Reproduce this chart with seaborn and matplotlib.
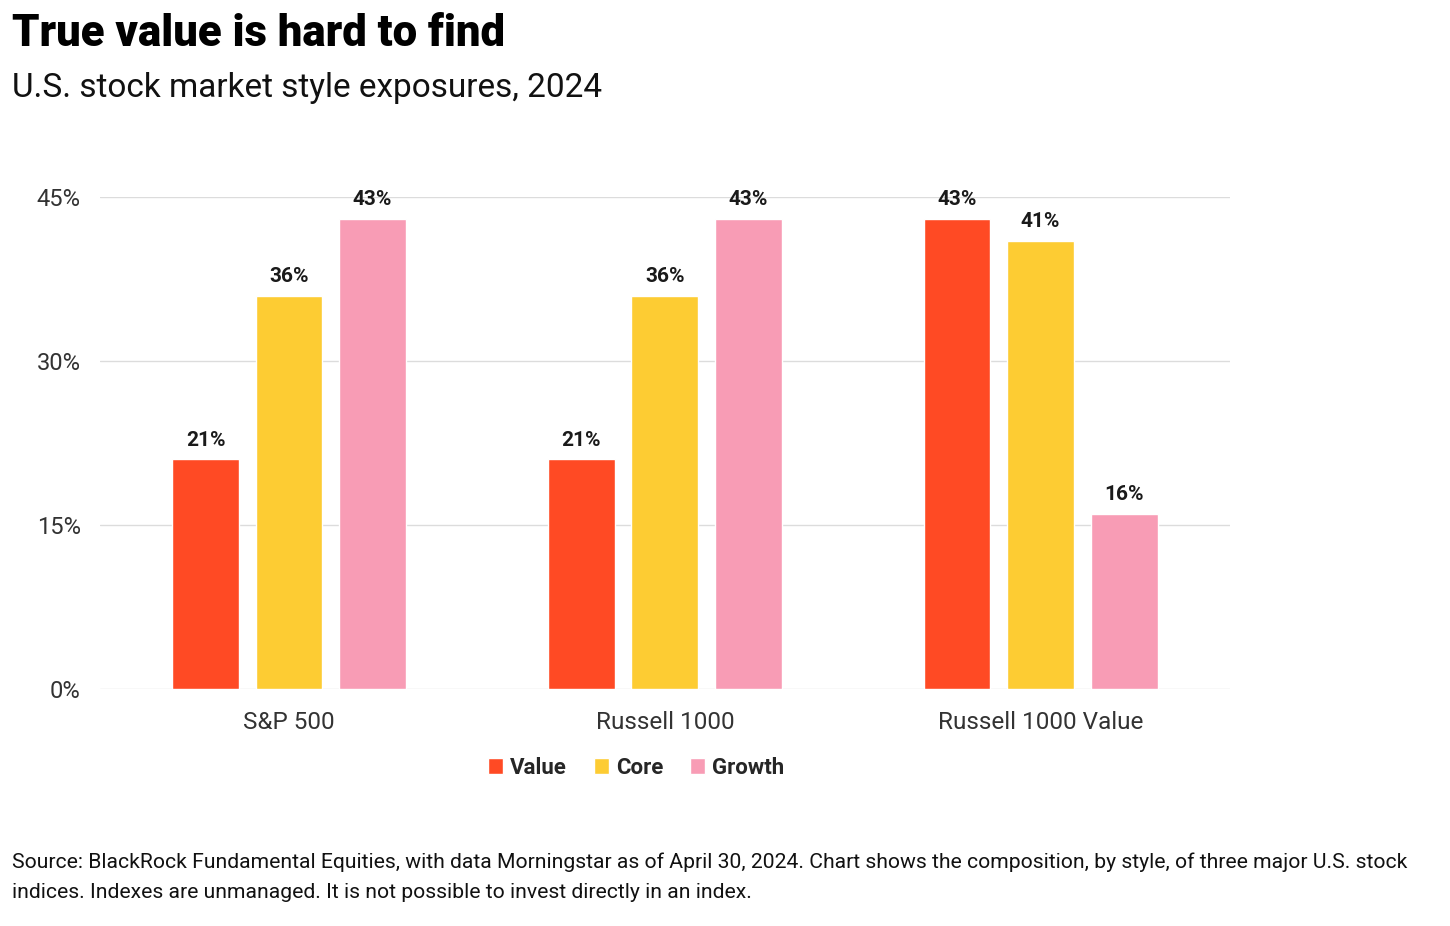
import seaborn as sns
import matplotlib.pyplot as plt
import pandas as pd

# values (percent of index)
indices = ["S&P 500", "Russell 1000", "Russell 1000 Value"]
styles = ["Value", "Core", "Growth"]
value_share = [21, 21, 43]
core_share = [36, 36, 41]
growth_share = [43, 43, 16]
yticks = [0, 15, 30, 45]

colors = {"Value": "#FF4A24", "Core": "#FDCC33", "Growth": "#F89CB5"}

df = pd.DataFrame({
    "index": indices * 3,
    "style": ["Value"] * 3 + ["Core"] * 3 + ["Growth"] * 3,
    "share": value_share + core_share + growth_share,
})

sns.set_theme(style="white")
plt.rcParams['font.family'] = ['Roboto', 'DejaVu Sans']

fig = plt.figure(figsize=(14.5, 9.26), dpi=100)
ax = fig.add_axes([0.069, 0.256, 0.779, 0.531])

sns.barplot(data=df, x="index", y="share", hue="style", hue_order=styles,
            palette=colors, width=0.667, gap=0.2, saturation=1, ax=ax)

ax.set_xlim(-0.503, 2.503)
ax.set_ylim(0, 45)
ax.set_yticks(yticks)
ax.set_yticklabels([f"{t}%" for t in yticks])
ax.set_xlabel("")
ax.set_ylabel("")
ax.yaxis.grid(True, color="#dcdcdc", linewidth=1)
ax.set_axisbelow(True)
for s in ax.spines.values():
    s.set_visible(False)
ax.tick_params(axis="y", length=0, pad=14, labelsize=17, labelcolor="#333333")
ax.tick_params(axis="x", length=0, pad=16, labelsize=17.5, labelcolor="#333333")

for cont in ax.containers:
    ax.bar_label(cont, labels=[f"{h.get_height():.0f}%" for h in cont],
                 padding=7, fontsize=15, fontweight="bold", color="#1a1a1a")

sns.move_legend(ax, loc="center", bbox_to_anchor=(0.4386, 0.171),
                bbox_transform=fig.transFigure, ncol=3, frameon=False,
                title=None, handlelength=0.7, handleheight=0.7,
                handletextpad=0.3, columnspacing=1.2,
                prop={"size": 16, "weight": "bold"})

fig.text(0.0083, 0.963, "True value is hard to find", fontsize=31.5,
         fontweight="black", va="center", ha="left", color="black")
fig.text(0.0083, 0.905, "U.S. stock market style exposures, 2024", fontsize=24,
         va="center", ha="left", color="#111111")
fig.text(0.0083, 0.053,
         "Source: BlackRock Fundamental Equities, with data Morningstar as of April 30, 2024. "
         "Chart shows the composition, by style, of three major U.S. stock\n"
         "indices. Indexes are unmanaged. It is not possible to invest directly in an index.",
         fontsize=15.2, va="center", ha="left", color="#111111", linespacing=1.72)

fig.savefig("out.png", dpi=100)
